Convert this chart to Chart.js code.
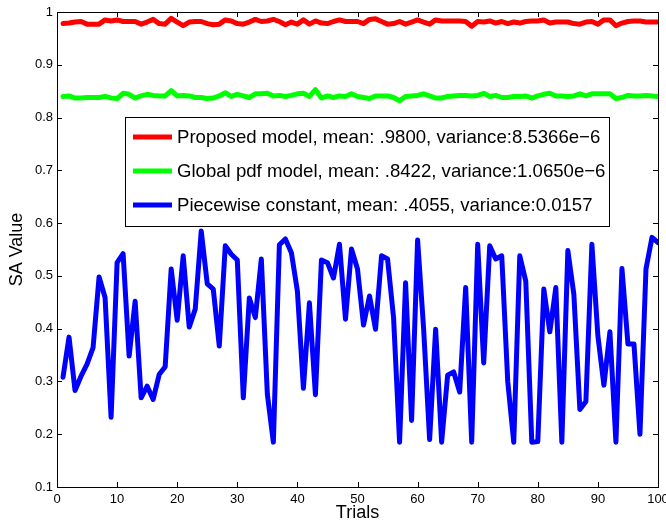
<!DOCTYPE html>
<html>
<head>
<meta charset="utf-8">
<script src="https://cdn.jsdelivr.net/npm/chart.js@4/dist/chart.umd.min.js"></script>
<style>
  html, body { margin: 0; padding: 0; background: #fff; }
  #wrap { width: 666px; height: 527px; }
</style>
</head>
<body>
<div id="wrap"><canvas id="saChart" width="666" height="527"></canvas></div>
<script>
const trials = Array.from({length: 100}, (_, i) => i + 1)

const seriesLabels = [
  'Proposed model, mean: .9800, variance:8.5366e\u22126',
  'Global pdf model, mean: .8422, variance:1.0650e\u22126',
  'Piecewise constant, mean: .4055, variance:0.0157'
]

const proposed = [
  0.978,0.979,0.981,0.982,0.977,0.977,0.977,0.985,0.983,0.985,
  0.982,0.982,0.982,0.977,0.981,0.986,0.978,0.977,0.988,0.981,
  0.974,0.981,0.982,0.982,0.978,0.976,0.977,0.985,0.983,0.978,
  0.977,0.981,0.986,0.982,0.983,0.986,0.982,0.976,0.981,0.977,
  0.985,0.977,0.983,0.979,0.978,0.982,0.985,0.982,0.982,0.982,
  0.978,0.986,0.987,0.982,0.977,0.978,0.982,0.977,0.981,0.985,
  0.981,0.977,0.985,0.983,0.983,0.983,0.983,0.982,0.973,0.982,
  0.981,0.983,0.979,0.982,0.978,0.981,0.979,0.982,0.983,0.983,
  0.985,0.979,0.981,0.981,0.981,0.978,0.977,0.981,0.982,0.977,
  0.985,0.985,0.974,0.979,0.982,0.983,0.983,0.981,0.981,0.981
]

const globalPdf = [
  0.840,0.841,0.837,0.837,0.838,0.838,0.838,0.840,0.837,0.836,
  0.846,0.844,0.837,0.841,0.844,0.842,0.841,0.841,0.851,0.841,
  0.842,0.841,0.838,0.838,0.836,0.837,0.841,0.847,0.840,0.844,
  0.841,0.838,0.845,0.845,0.846,0.841,0.842,0.840,0.842,0.845,
  0.846,0.840,0.853,0.837,0.841,0.838,0.841,0.840,0.845,0.840,
  0.838,0.836,0.841,0.841,0.841,0.838,0.832,0.840,0.841,0.842,
  0.845,0.841,0.837,0.837,0.840,0.841,0.842,0.842,0.841,0.842,
  0.846,0.840,0.842,0.838,0.838,0.840,0.840,0.841,0.837,0.841,
  0.844,0.846,0.841,0.841,0.840,0.841,0.845,0.841,0.845,0.845,
  0.845,0.845,0.836,0.838,0.842,0.841,0.841,0.842,0.841,0.840
]

const piecewise = [
  0.308,0.384,0.283,0.310,0.333,0.364,0.498,0.459,0.232,0.525,
  0.542,0.348,0.452,0.269,0.291,0.266,0.313,0.328,0.513,0.416,
  0.538,0.403,0.437,0.585,0.485,0.475,0.367,0.557,0.541,0.530,
  0.269,0.458,0.421,0.532,0.276,0.185,0.559,0.570,0.544,0.471,
  0.287,0.449,0.275,0.530,0.525,0.496,0.560,0.418,0.551,0.513,
  0.407,0.462,0.399,0.538,0.532,0.421,0.185,0.487,0.226,0.568,
  0.400,0.190,0.399,0.185,0.312,0.318,0.280,0.478,0.185,0.560,
  0.335,0.557,0.532,0.538,0.300,0.185,0.538,0.490,0.185,0.186,
  0.475,0.394,0.478,0.185,0.548,0.465,0.247,0.262,0.560,0.386,
  0.293,0.394,0.185,0.514,0.371,0.371,0.200,0.513,0.573,0.563
]

const xTicks = [0, 10, 20, 30, 40, 50, 60, 70, 80, 90, 100]
const yTicks = [0.1, 0.2, 0.3, 0.4, 0.5, 0.6, 0.7, 0.8, 0.9, 1]
const colors = ['#ff0000', '#00ff00', '#0000ff']

const FONT = '"Liberation Sans", Arial, Helvetica, sans-serif'

const toPoints = vals => vals.map((v, i) => ({x: trials[i], y: v}))

// matlab style frame with inward ticks
const framePlugin = {
  id: 'frame',
  afterDatasetsDraw(chart) {
    const {ctx, chartArea: a, scales} = chart
    ctx.save()
    ctx.strokeStyle = '#000'
    ctx.lineWidth = 1
    ctx.strokeRect(Math.round(a.left) + 0.5, Math.round(a.top) + 0.5,
      Math.round(a.right - a.left), Math.round(a.bottom - a.top))
    const len = 5
    ctx.beginPath()
    xTicks.forEach(t => {
      const px = Math.round(scales.x.getPixelForValue(t)) + 0.5
      ctx.moveTo(px, a.bottom); ctx.lineTo(px, a.bottom - len)
      ctx.moveTo(px, a.top); ctx.lineTo(px, a.top + len)
    })
    yTicks.forEach(t => {
      const py = Math.round(scales.y.getPixelForValue(t)) + 0.5
      ctx.moveTo(a.left, py); ctx.lineTo(a.left + len, py)
      ctx.moveTo(a.right, py); ctx.lineTo(a.right - len, py)
    })
    ctx.stroke()
    ctx.restore()
  }
}

// legend box inside the axes
const boxLegend = {
  id: 'boxLegend',
  afterDraw(chart) {
    const {ctx} = chart
    const x0 = 125, y0 = 117, w = 484, h = 109
    ctx.save()
    ctx.fillStyle = '#fff'
    ctx.fillRect(x0, y0, w, h)
    ctx.strokeStyle = '#000'
    ctx.lineWidth = 1
    ctx.strokeRect(x0 + 0.5, y0 + 0.5, w, h)
    ctx.font = '18.6px ' + FONT
    ctx.textBaseline = 'middle'
    ctx.fillStyle = '#000'
    chart.data.datasets.forEach((ds, i) => {
      const cy = 137 + i * 34
      ctx.strokeStyle = ds.borderColor
      ctx.lineWidth = 5
      ctx.beginPath()
      ctx.moveTo(133, cy); ctx.lineTo(172, cy)
      ctx.stroke()
      ctx.fillText(ds.label, 177, cy + 1)
    })
    ctx.restore()
  }
}

new Chart(document.getElementById('saChart'), {
  type: 'line',
  data: {
    datasets: [proposed, globalPdf, piecewise].map((vals, i) => ({
      label: seriesLabels[i],
      data: toPoints(vals),
      borderColor: colors[i],
      backgroundColor: colors[i],
      borderWidth: 5,
      pointRadius: 0,
      tension: 0,
      borderJoinStyle: 'round',
      borderCapStyle: 'round'
    }))
  },
  options: {
    responsive: false,
    animation: false,
    layout: {padding: {left: 0, top: 12, right: 8, bottom: 0}},
    plugins: {legend: {display: false}, tooltip: {enabled: false}},
    scales: {
      x: {
        type: 'linear', min: 0, max: 100,
        afterFit(scale) { scale.height = 40; scale.paddingLeft = 0; scale.paddingRight = 0 },
        afterBuildTicks(scale) { scale.ticks = xTicks.map(v => ({value: v})) },
        grid: {display: false, drawTicks: false},
        border: {display: false},
        ticks: {color: '#000', padding: 5, maxRotation: 0, autoSkip: false, font: {family: FONT, size: 13}},
        title: {display: true, text: 'Trials', color: '#000', padding: {top: 0, bottom: 3}, font: {family: FONT, size: 18}}
      },
      y: {
        min: 0.1, max: 1,
        afterFit(scale) { scale.width = 57; scale.paddingTop = 0; scale.paddingBottom = 0 },
        afterBuildTicks(scale) { scale.ticks = yTicks.map(v => ({value: v})) },
        grid: {display: false, drawTicks: false},
        border: {display: false},
        ticks: {color: '#000', padding: 4, autoSkip: false, font: {family: FONT, size: 13},
          callback: v => String(+v.toFixed(1))},
        title: {display: true, text: 'SA Value', color: '#000', padding: {top: 6, bottom: 0}, font: {family: FONT, size: 18}}
      }
    }
  },
  plugins: [framePlugin, boxLegend]
})
</script>
</body>
</html>
